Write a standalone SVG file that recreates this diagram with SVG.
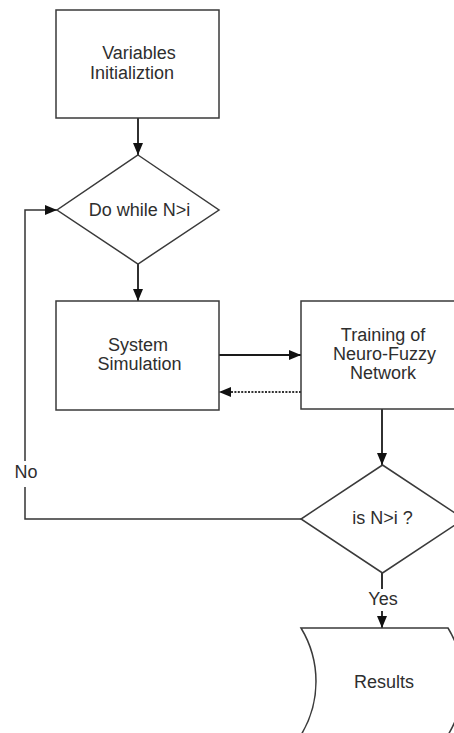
<svg xmlns="http://www.w3.org/2000/svg" width="454" height="733" viewBox="0 0 454 733">
<style>
.shape{fill:#ffffff;stroke:#3a3a3a;stroke-width:1.5}
.lbl{font-family:"Liberation Sans",Arial,sans-serif;font-size:18px;fill:#2e2e2e;text-anchor:middle}
.conn{fill:none;stroke:#1a1a1a;stroke-width:1.8}
.dot{fill:none;stroke:#333;stroke-width:2.2;stroke-dasharray:2 1.4}
</style>
<defs>
<marker id="arr" markerUnits="userSpaceOnUse" markerWidth="14" markerHeight="12" refX="12" refY="5" orient="auto">
<path d="M0,0 L12,5 L0,10 Z" fill="#111"/>
</marker>
</defs>
<rect width="454" height="733" fill="#ffffff"/>
<g id="connectors">
<line class="conn" x1="138" y1="118" x2="138" y2="155" marker-end="url(#arr)"/>
<line class="conn" x1="138" y1="264" x2="138" y2="301" marker-end="url(#arr)"/>
<line class="conn" x1="219" y1="355" x2="301" y2="355" marker-end="url(#arr)"/>
<line class="dot" x1="301" y1="392" x2="219" y2="392" marker-end="url(#arr)"/>
<line class="conn" x1="382" y1="409" x2="382" y2="465" marker-end="url(#arr)"/>
<path class="conn" style="stroke-width:1.5;stroke:#333" d="M301,519 H25 V487"/>
<path class="conn" style="stroke-width:1.5;stroke:#333" d="M25,461 V210 H57" marker-end="url(#arr)"/>
<text class="lbl" x="26" y="477.5">No</text>
<line class="conn" x1="382" y1="573" x2="382" y2="589"/>
<text class="lbl" x="383" y="605">Yes</text>
<line class="conn" x1="382" y1="611" x2="382" y2="628" marker-end="url(#arr)"/>
</g>
<g id="variables-init">
<rect class="shape" x="56" y="10" width="163" height="108"/>
<text class="lbl" x="139" y="59">Variables</text>
<text class="lbl" x="132" y="79">Initializtion</text>
</g>
<g id="do-while">
<polygon class="shape" points="138,155 219,210 138,264 57,210"/>
<text class="lbl" x="139.5" y="215.5">Do while N&gt;i</text>
</g>
<g id="system-simulation">
<rect class="shape" x="56" y="301" width="163" height="109"/>
<text class="lbl" x="138" y="350.5">System</text>
<text class="lbl" x="139.5" y="369.5">Simulation</text>
</g>
<g id="training">
<rect class="shape" x="301" y="301" width="163" height="108"/>
<text class="lbl" x="383" y="341">Training of</text>
<text class="lbl" x="384.5" y="360">Neuro-Fuzzy</text>
<text class="lbl" x="383" y="379">Network</text>
</g>
<g id="is-n-i">
<polygon class="shape" points="382.5,465 464,519 382.5,573 301,519"/>
<text class="lbl" x="382.5" y="524">is N&gt;i ?</text>
</g>
<g id="results">
<path class="shape" d="M301,628 H448 A103,103 0 0 1 448,735 H301 A103,103 0 0 0 301,628 Z"/>
<text class="lbl" x="384" y="688">Results</text>
</g>
</svg>
